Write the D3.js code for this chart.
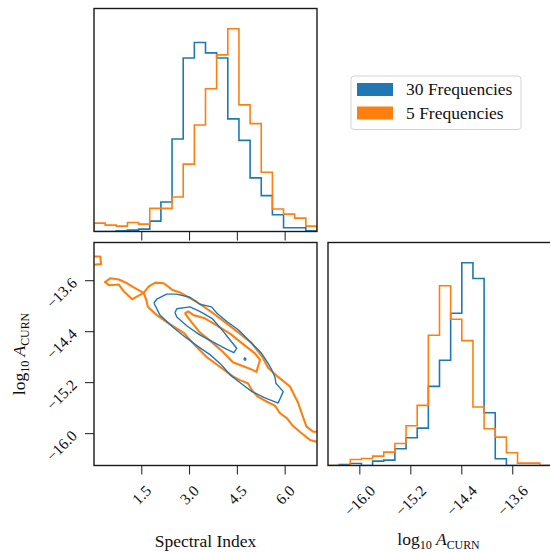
<!DOCTYPE html>
<html>
<head>
<meta charset="utf-8">
<script src="https://cdn.jsdelivr.net/npm/d3@7.9.0/dist/d3.min.js"></script>
<style>
  body { margin: 0; background: #fff; }
  svg { display: block; font-family: "Liberation Serif", "DejaVu Serif", serif; }
</style>
</head>
<body>
<svg id="corner" width="550" height="552"></svg>
<script>
// bin edges of the two 1d histograms
const siEdges = [0, 0.35, 0.7, 1.05, 1.4, 1.75, 2.1, 2.45, 2.8, 3.15, 3.5, 3.85, 4.2, 4.55, 4.9, 5.25, 5.6, 5.95, 6.3, 6.65, 7.0];
const ampEdges = [-16.5, -16.325, -16.15, -15.975, -15.8, -15.625, -15.45, -15.275, -15.1, -14.925, -14.75,
                  -14.575, -14.4, -14.225, -14.05, -13.875, -13.7, -13.525, -13.35, -13.175, -13.0];

// histogram heights (arbitrary units)
const siCounts30 = [0, 0, 2, 4, 7, 31, 88, 276, 518, 564, 533, 518, 336, 272, 160, 107, 50, 11, 11, 2];
const siCounts5 = [25, 19, 16, 27, 22, 69, 69, 103, 201, 318, 426, 527, 605, 378, 322, 177, 67, 52, 40, 16];
const ampCounts30 = [0, 3, 6, 0, 13, 16, 50, 83, 112, 237, 315, 456, 607, 560, 158, 20, 0, 0, 0, 0];
const ampCounts5 = [0, 0, 18, 21, 28, 40, 66, 119, 180, 390, 538, 438, 374, 175, 110, 85, 38, 7, 7, 0];

const siTicks = [1.5, 3.0, 4.5, 6.0];
const ampTicks = [-16.0, -15.2, -14.4, -13.6];

// 2d contours, [spectral index, log10 A]
const contour30Outer = [[1.88,-13.95],[1.97,-13.89],[2.28,-13.81],[2.59,-13.81],[3.01,-13.86],[3.32,-13.97],[3.69,-14.01],
  [3.86,-14.11],[4.17,-14.24],[4.53,-14.37],[4.89,-14.55],[5.26,-14.74],[5.47,-14.90],[5.58,-15.00],[5.68,-15.11],
  [5.71,-15.21],[5.94,-15.34],[5.78,-15.52],[5.33,-15.43],[4.96,-15.34],[4.64,-15.22],[4.30,-15.09],[3.98,-14.91],
  [3.64,-14.76],[3.26,-14.63],[2.88,-14.49],[2.48,-14.33],[2.07,-14.14],[1.88,-13.95]];
const contour30Inner = [[2.54,-14.10],[2.60,-14.04],[3.01,-14.01],[3.32,-14.08],[3.70,-14.19],[4.05,-14.39],[4.27,-14.53],
  [4.48,-14.66],[4.39,-14.73],[4.14,-14.67],[3.73,-14.56],[3.32,-14.45],[2.92,-14.31],[2.60,-14.17],[2.54,-14.10]];
const contour30Peak = [[4.70,-14.83],[4.74,-14.81],[4.77,-14.83],[4.74,-14.85],[4.70,-14.83]];
const contour5Outer = [[7.0,-15.97],[6.88,-15.97],[6.67,-15.89],[6.52,-15.68],[6.41,-15.52],[6.15,-15.26],[5.78,-15.11],
  [5.47,-14.97],[5.29,-14.80],[4.95,-14.58],[4.58,-14.43],[4.16,-14.27],[3.74,-14.11],[3.22,-13.93],[2.72,-13.79],
  [2.45,-13.74],[2.19,-13.64],[1.93,-13.63],[1.72,-13.69],[1.56,-13.79],[1.30,-13.72],[1.04,-13.64],[0.78,-13.58],
  [0.52,-13.56],[0.34,-13.62],[0.47,-13.67],[0.78,-13.66],[0.94,-13.77],[1.20,-13.89],[1.56,-13.79],[1.64,-13.90],
  [1.69,-14.01],[1.97,-14.14],[2.38,-14.28],[2.82,-14.42],[3.20,-14.63],[3.54,-14.80],[3.95,-14.95],[4.36,-15.10],
  [4.58,-15.16],[4.83,-15.21],[4.96,-15.32],[5.14,-15.42],[5.43,-15.50],[5.68,-15.56],[5.84,-15.68],[6.06,-15.76],
  [6.21,-15.86],[6.46,-15.97],[6.78,-16.10],[7.0,-16.13]];
const contour5Inner = [[2.85,-14.11],[2.96,-14.08],[3.12,-14.14],[3.48,-14.19],[3.85,-14.30],[4.27,-14.43],[4.67,-14.59],
  [5.05,-14.74],[5.21,-14.84],[5.10,-15.03],[4.89,-14.98],[4.36,-14.88],[4.05,-14.72],[3.69,-14.56],[3.32,-14.41],
  [3.06,-14.25],[2.85,-14.11]];
const contour5Edge = [[0,-13.22],[0.20,-13.22],[0.22,-13.34],[0,-13.35]];

const blue = "#1f77b4", orange = "#ff7f0e";
const svg = d3.select("#corner");

// panel frames
const colL = { x: 94, w: 223 }, colR = { x: 328, w: 223 };
const rowT = { y: 8.5, h: 223 }, rowB = { y: 242.5, h: 223 };

let xSI = d3.scaleLinear().domain([0, 7]).range([colL.x, colL.x + colL.w]);
let xAmp = d3.scaleLinear().domain([-16.5, -13.0]).range([colR.x, colR.x + colR.w]);
let yAmp = d3.scaleLinear().domain([-16.5, -13.0]).range([rowB.y + rowB.h, rowB.y]);
let yTop = d3.scaleLinear().domain([0, 1.1 * d3.max(siCounts5.concat(siCounts30))]).range([rowT.y + rowT.h, rowT.y]);
let yRight = d3.scaleLinear().domain([0, 1.1 * d3.max(ampCounts5.concat(ampCounts30))]).range([rowB.y + rowB.h, rowB.y]);

function stepPoints(edges, counts) {
  let pts = [[edges[0], 0]];
  counts.forEach((c, i) => {
    pts.push([edges[i], c]);
    pts.push([edges[i + 1], c]);
  });
  pts.push([edges[edges.length - 1], 0]);
  return pts;
}

function addClip(id, x, y, w, h) {
  svg.append("clipPath").attr("id", id)
    .append("rect").attr("x", x).attr("y", y).attr("width", w).attr("height", h);
}
addClip("clipTop", colL.x, rowT.y, colL.w, rowT.h);
addClip("clipMid", colL.x, rowB.y, colL.w, rowB.h);
addClip("clipRight", colR.x, rowB.y, colR.w, rowB.h);

// top histogram
let gTop = svg.append("g").attr("clip-path", "url(#clipTop)");
let lineTop = d3.line().x(d => xSI(d[0])).y(d => yTop(d[1]));
[[siCounts30, blue], [siCounts5, orange]].forEach(([counts, color]) => {
  gTop.append("path")
    .attr("d", lineTop(stepPoints(siEdges, counts)))
    .attr("fill", "none")
    .attr("stroke", color)
    .attr("stroke-width", 1.6);
});

// right histogram
let gRight = svg.append("g").attr("clip-path", "url(#clipRight)");
let lineRight = d3.line().x(d => xAmp(d[0])).y(d => yRight(d[1]));
[[ampCounts30, blue], [ampCounts5, orange]].forEach(([counts, color]) => {
  gRight.append("path")
    .attr("d", lineRight(stepPoints(ampEdges, counts)))
    .attr("fill", "none")
    .attr("stroke", color)
    .attr("stroke-width", 1.6);
});

// 2d contours
let gMid = svg.append("g").attr("clip-path", "url(#clipMid)");
let lineMid = d3.line().x(d => xSI(d[0])).y(d => yAmp(d[1]));
[[contour5Outer, orange, 2.1], [contour5Inner, orange, 2.1], [contour5Edge, orange, 2.1],
 [contour30Outer, blue, 1.4], [contour30Inner, blue, 1.4], [contour30Peak, blue, 1.4]].forEach(([pts, color, sw]) => {
  gMid.append("path")
    .attr("d", lineMid(pts))
    .attr("fill", "none")
    .attr("stroke", color)
    .attr("stroke-width", sw)
    .attr("stroke-linejoin", "round");
});

// frames
[[colL, rowT], [colL, rowB], [colR, rowB]].forEach(([c, r]) => {
  svg.append("rect")
    .attr("x", c.x).attr("y", r.y).attr("width", c.w).attr("height", r.h)
    .attr("fill", "none").attr("stroke", "#1a1a1a").attr("stroke-width", 1.4);
});

// ticks
const tickLen = 9;
const fmt = d3.format(".1f");
const tickFont = 15.5;

function xTicks(scale, vals, baseY, labels) {
  let g = svg.append("g");
  vals.forEach(v => {
    g.append("line")
      .attr("x1", scale(v)).attr("x2", scale(v))
      .attr("y1", baseY).attr("y2", baseY + tickLen)
      .attr("stroke", "#1a1a1a").attr("stroke-width", 1);
    if (labels) {
      let t = g.append("text")
        .attr("text-anchor", "middle")
        .attr("dy", "0.33em")
        .attr("font-size", tickFont)
        .attr("fill", "#111")
        .text(fmt(v));
      let w = t.node().getComputedTextLength();
      let half = (w + 0.66 * tickFont) / (2 * Math.SQRT2);
      t.attr("transform", `translate(${scale(v)},${baseY + tickLen + 10 + half}) rotate(-45)`);
    }
  });
}
xTicks(xSI, siTicks, rowT.y + rowT.h, false);
xTicks(xSI, siTicks, rowB.y + rowB.h, true);
xTicks(xAmp, ampTicks, rowB.y + rowB.h, true);

// y ticks of the 2d panel
let gy = svg.append("g");
ampTicks.forEach(v => {
  gy.append("line")
    .attr("x1", colL.x - tickLen).attr("x2", colL.x)
    .attr("y1", yAmp(v)).attr("y2", yAmp(v))
    .attr("stroke", "#1a1a1a").attr("stroke-width", 1);
  let t = gy.append("text")
    .attr("text-anchor", "middle")
    .attr("dy", "0.33em")
    .attr("font-size", tickFont)
    .attr("fill", "#111")
    .text(fmt(v));
  let w = t.node().getComputedTextLength();
  let half = (w + 0.66 * tickFont) / (2 * Math.SQRT2);
  t.attr("transform", `translate(${colL.x - tickLen - 7 - half},${yAmp(v) - 4 + half}) rotate(-45)`);
});

// axis labels
const labelFont = 17.5;
svg.append("text")
  .attr("x", colL.x + colL.w / 2).attr("y", 547)
  .attr("text-anchor", "middle")
  .attr("font-size", labelFont)
  .attr("fill", "#111")
  .text("Spectral Index");

function ampLabel(sel) {
  sel.append("tspan").text("log");
  sel.append("tspan").attr("font-size", labelFont * 0.7).attr("dy", 4).text("10");
  sel.append("tspan").attr("font-style", "italic").attr("dx", 4).attr("dy", -4).text("A");
  sel.append("tspan").attr("font-size", labelFont * 0.68).attr("dy", 4).text("CURN");
}
svg.append("text")
  .attr("x", colR.x + colR.w / 2 - 1).attr("y", 545)
  .attr("text-anchor", "middle")
  .attr("font-size", labelFont)
  .attr("fill", "#111")
  .call(ampLabel);
svg.append("text")
  .attr("transform", `translate(25,${rowB.y + rowB.h / 2}) rotate(-90)`)
  .attr("text-anchor", "middle")
  .attr("font-size", labelFont)
  .attr("fill", "#111")
  .call(ampLabel);

// legend
const legendItems = [
  { label: "30 Frequencies", color: blue },
  { label: "5 Frequencies", color: orange }
];
let legend = svg.append("g").attr("transform", "translate(351,76)");
legend.append("rect")
  .attr("width", 170).attr("height", 53.5)
  .attr("rx", 3)
  .attr("fill", "#fff")
  .attr("stroke", "#d3d3d3")
  .attr("stroke-width", 1);
legendItems.forEach((d, i) => {
  let row = legend.append("g").attr("transform", `translate(0,${i * 23.5})`);
  row.append("rect")
    .attr("x", 6).attr("y", 7)
    .attr("width", 36).attr("height", 13)
    .attr("fill", d.color);
  row.append("text")
    .attr("x", 55).attr("y", 19)
    .attr("font-size", labelFont)
    .attr("fill", "#111")
    .text(d.label);
});
</script>
</body>
</html>
